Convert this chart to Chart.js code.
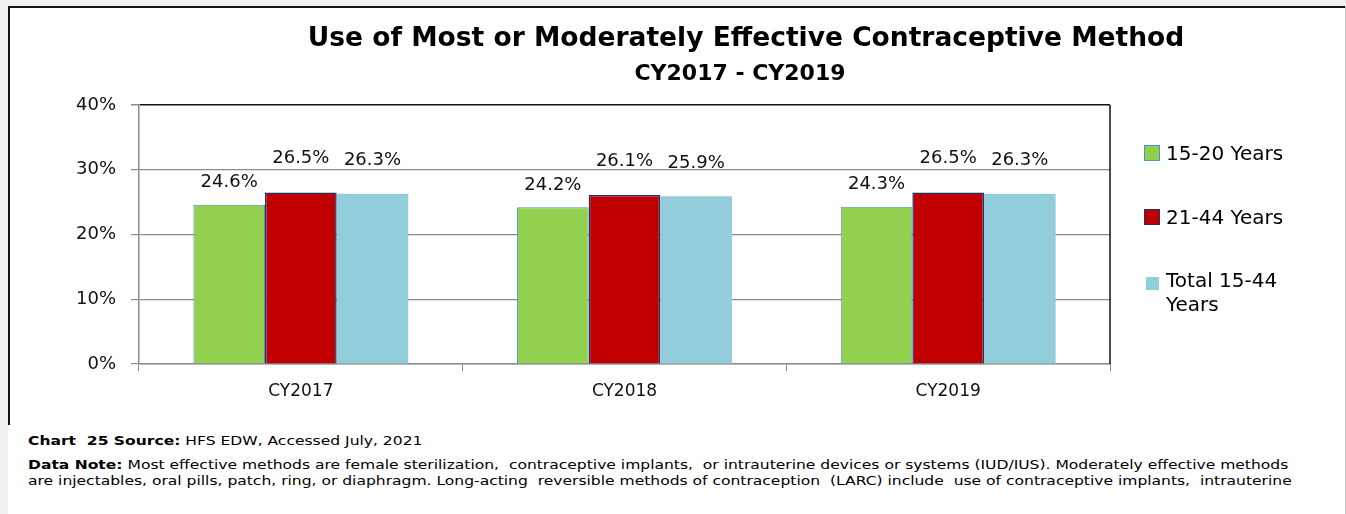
<!DOCTYPE html>
<html>
<head>
<meta charset="utf-8">
<script src="https://cdn.jsdelivr.net/npm/chart.js@4.4.1/dist/chart.umd.min.js"></script>
<style>
    body {
        margin: 0;
        width: 1346px;
        height: 514px;
        overflow: hidden;
        background: #f0f0f0;
        font-family: "DejaVu Sans", Verdana, sans-serif;
        color: #000;
    }
    #sheet {
        position: absolute;
        left: 8px;
        top: 6px;
        width: 1337px;
        height: 508px;
        background: #fff;
        border-right: 1px solid #c8c8c8;
    }
    #box {
        position: absolute;
        left: 0;
        top: 0;
        width: 1337px;
        height: 419px;
        box-sizing: border-box;
        border-top: 2px solid #111;
        border-left: 2px solid #111;
    }
    #chart {
        position: absolute;
        left: 0;
        top: 0;
        width: 1337px;
        height: 419px;
    }
    .title {
        position: absolute;
        width: 1000px;
        text-align: center;
        font-weight: bold;
        white-space: nowrap;
    }
    #title { left: 246px; top: 20px; font-size: 26.5px; line-height: 34px; }
    #subtitle { left: 240px; top: 60px; font-size: 22px; line-height: 26px; }
    .legend-item {
        position: absolute;
        left: 1144px;
        font-size: 20px;
        line-height: 24px;
        white-space: nowrap;
    }
    .legend-item span.box {
        position: absolute;
        box-sizing: border-box;
    }
    .legend-item span.txt {
        position: absolute;
        left: 22px;
        top: 0;
    }
    #notes {
        position: absolute;
        left: 28px;
        top: 433px;
        font-size: 13px;
        line-height: 16px;
        white-space: nowrap;
        transform: scaleX(1.195);
        transform-origin: 0 0;
    }
</style>
</head>
<body>
<div id="sheet">
    <div id="box"></div>
    <canvas id="chart" width="1337" height="419"></canvas>
</div>
<div id="title" class="title">Use of Most or Moderately Effective Contraceptive Method</div>
<div id="subtitle" class="title">CY2017 - CY2019</div>
<div id="legend"></div>
<div id="notes">
    <div><b>Chart&nbsp; 25 Source:</b> HFS EDW, Accessed July, 2021</div>
    <div style="margin-top:8px"><b>Data Note:</b> Most effective methods are female sterilization,&nbsp; contraceptive implants,&nbsp; or intrauterine devices or systems (IUD/IUS). Moderately effective methods</div>
    <div>are injectables, oral pills, patch, ring, or diaphragm. Long-acting&nbsp; reversible methods of contraception&nbsp; (LARC) include&nbsp; use of contraceptive implants,&nbsp; intrauterine</div>
</div>

<script>
// Chart data
const years = ['CY2017', 'CY2018', 'CY2019'];
const seriesNames = ['15-20 Years', '21-44 Years', ['Total 15-44', 'Years']];
const ages15to20 = [24.6, 24.2, 24.3];
const ages21to44 = [26.5, 26.1, 26.5];
const total15to44 = [26.3, 25.9, 26.3];
const yTicks = [0, 10, 20, 30, 40];

// Look of each series
const fills = ['#92d050', '#c00000', '#92cddc'];
const edges = ['#5b8cc8', '#1f3560', '#92cddc'];
const edgeWidths = [1, 1.5, 0];
// how far above the bar top each value label sits (px)
const labelLift = [22, 34, 33];

const gridGray = '#8c8c8c';

// Value labels above bars
const valueLabels = {
    id: 'valueLabels',
    afterDatasetsDraw(chart) {
        const ctx = chart.ctx;
        ctx.save();
        ctx.font = '18px "DejaVu Sans", Verdana, sans-serif';
        ctx.fillStyle = '#111';
        ctx.textAlign = 'center';
        ctx.textBaseline = 'middle';
        chart.data.datasets.forEach((ds, i) => {
            chart.getDatasetMeta(i).data.forEach((bar, j) => {
                ctx.fillText(ds.data[j].toFixed(1) + '%', bar.x, bar.y - labelLift[i]);
            });
        });
        ctx.restore();
    }
};

// Black frame on the right side of the plot area
const plotFrame = {
    id: 'plotFrame',
    afterDraw(chart) {
        const a = chart.chartArea;
        const ctx = chart.ctx;
        ctx.save();
        ctx.strokeStyle = '#111';
        ctx.lineWidth = 1.5;
        ctx.beginPath();
        ctx.moveTo(a.right, a.top);
        ctx.lineTo(a.right, a.bottom);
        ctx.stroke();
        ctx.restore();
    }
};

const datasets = [ages15to20, ages21to44, total15to44].map((values, i) => ({
    label: Array.isArray(seriesNames[i]) ? seriesNames[i].join(' ') : seriesNames[i],
    data: values,
    backgroundColor: fills[i],
    borderColor: edges[i],
    borderWidth: edgeWidths[i],
    categoryPercentage: 0.664,
    barPercentage: 1.0
}));

new Chart(document.getElementById('chart'), {
    type: 'bar',
    data: { labels: years, datasets: datasets },
    options: {
        responsive: false,
        animation: false,
        layout: { padding: { top: 99, right: 235, left: 0, bottom: 21 } },
        plugins: {
            legend: { display: false },
            tooltip: { enabled: false }
        },
        scales: {
            x: {
                grid: {
                    drawOnChartArea: false,
                    tickLength: 7,
                    color: gridGray
                },
                border: { color: gridGray, width: 1.5 },
                ticks: {
                    color: '#111',
                    padding: 10,
                    font: { family: '"DejaVu Sans", Verdana, sans-serif', size: 17 }
                },
                afterFit(scale) { scale.height = 40; }
            },
            y: {
                min: 0,
                max: 40,
                afterBuildTicks(scale) {
                    scale.ticks = yTicks.map(v => ({ value: v }));
                },
                grid: {
                    color: c => (c.tick && c.tick.value === 40 ? '#111' : gridGray),
                    lineWidth: c => (c.tick && c.tick.value === 40 ? 1.5 : 1.2),
                    tickColor: gridGray,
                    tickLength: 8
                },
                border: { color: gridGray, width: 1.5 },
                ticks: {
                    color: '#111',
                    padding: 15,
                    font: { family: '"DejaVu Sans", Verdana, sans-serif', size: 18 },
                    callback: v => v + '%'
                },
                afterFit(scale) { scale.width = 131; }
            }
        }
    },
    plugins: [valueLabels, plotFrame]
});

// Legend on the right, built from the series arrays
const legendTops = [141, 205, 268];
const legendEl = document.getElementById('legend');
seriesNames.forEach((name, i) => {
    const item = document.createElement('div');
    item.className = 'legend-item';
    item.style.top = legendTops[i] + 'px';
    const box = document.createElement('span');
    box.className = 'box';
    const size = i === 2 ? 13 : 16;
    box.style.width = size + 'px';
    box.style.height = size + 'px';
    box.style.left = (i === 2 ? 2 : 0) + 'px';
    box.style.top = (i === 2 ? 9 : 4) + 'px';
    box.style.background = fills[i];
    if (edgeWidths[i] > 0) box.style.border = '1.5px solid ' + edges[i];
    const txt = document.createElement('span');
    txt.className = 'txt';
    txt.innerHTML = Array.isArray(name) ? name.join('<br>') : name;
    item.appendChild(box);
    item.appendChild(txt);
    legendEl.appendChild(item);
});
</script>
</body>
</html>
